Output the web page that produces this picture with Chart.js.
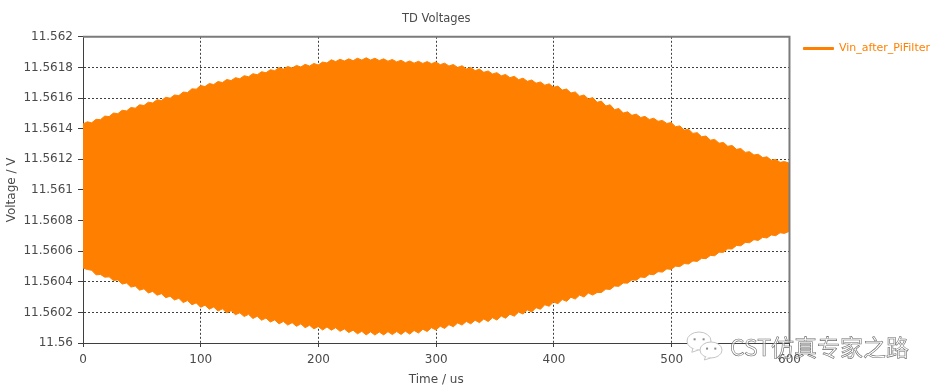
<!DOCTYPE html>
<html>
<head>
<meta charset="utf-8">
<title>TD Voltages</title>
<script src="https://cdn.jsdelivr.net/npm/chart.js@4"></script>
<style>
html, body { margin: 0; padding: 0; background: #fff; }
canvas { display: block; }
</style>
</head>
<body>
<canvas id="myChart" width="940" height="388"></canvas>
<script>
const seriesName = 'Vin_after_PiFilter';
const chartTitle = 'TD Voltages';
const xTitle = 'Time / us';
const yTitle = 'Voltage / V';
const watermark = 'CST仿真专家之路';

// time of each envelope sample, one ripple tooth is about 7.4 us
const times = [
    0, 3.7, 7.4, 11.1, 14.8, 18.5, 22.2, 25.9, 29.6, 33.3, 37, 40.7, 44.4, 48.1, 51.8, 55.5, 59.2, 62.9, 66.6, 70.3,
    74, 77.7, 81.4, 85.1, 88.8, 92.5, 96.2, 99.9, 103.6, 107.3, 111, 114.7, 118.4, 122.1, 125.8, 129.5, 133.2, 136.9, 140.6, 144.3,
    148, 151.7, 155.4, 159.1, 162.8, 166.5, 170.2, 173.9, 177.6, 181.3, 185, 188.7, 192.4, 196.1, 199.8, 203.5, 207.2, 210.9, 214.6, 218.3,
    222, 225.7, 229.4, 233.1, 236.8, 240.5, 244.2, 247.9, 251.6, 255.3, 259, 262.7, 266.4, 270.1, 273.8, 277.5, 281.2, 284.9, 288.6, 292.3,
    296, 299.7, 303.4, 307.1, 310.8, 314.5, 318.2, 321.9, 325.6, 329.3, 333, 336.7, 340.4, 344.1, 347.8, 351.5, 355.2, 358.9, 362.6, 366.3,
    370, 373.7, 377.4, 381.1, 384.8, 388.5, 392.2, 395.9, 399.6, 403.3, 407, 410.7, 414.4, 418.1, 421.8, 425.5, 429.2, 432.9, 436.6, 440.3,
    444, 447.7, 451.4, 455.1, 458.8, 462.5, 466.2, 469.9, 473.6, 477.3, 481, 484.7, 488.4, 492.1, 495.8, 499.5, 503.2, 506.9, 510.6, 514.3,
    518, 521.7, 525.4, 529.1, 532.8, 536.5, 540.2, 543.9, 547.6, 551.3, 555, 558.7, 562.4, 566.1, 569.8, 573.5, 577.2, 580.9, 584.6, 588.3,
    592, 595.7, 599.4, 600
];

// upper edge of the orange band
const upperEdge = [
    11.56143, 11.561445, 11.561438, 11.561461, 11.561459, 11.561482, 11.561479, 11.561502, 11.561498, 11.56152,
    11.561516, 11.561538, 11.561534, 11.561556, 11.561551, 11.561573, 11.561568, 11.561589, 11.561584, 11.561605,
    11.561599, 11.56162, 11.561616, 11.561639, 11.561636, 11.56166, 11.561658, 11.561682, 11.561675, 11.561695,
    11.561688, 11.561708, 11.561701, 11.561721, 11.561714, 11.561733, 11.561726, 11.561746, 11.561739, 11.561759,
    11.561752, 11.561772, 11.561765, 11.561785, 11.561779, 11.561799, 11.561789, 11.561806, 11.561796, 11.561813,
    11.561803, 11.56182, 11.561809, 11.561826, 11.561816, 11.561835, 11.561829, 11.56185, 11.561838, 11.561853,
    11.561842, 11.561856, 11.561844, 11.56186, 11.561848, 11.561863, 11.561848, 11.56186, 11.561845, 11.561856,
    11.561841, 11.561852, 11.561836, 11.561847, 11.561831, 11.561842, 11.561828, 11.56184, 11.561826, 11.561838,
    11.561824, 11.561836, 11.561818, 11.561828, 11.561809, 11.561819, 11.5618, 11.561811, 11.56179, 11.5618,
    11.561779, 11.561789, 11.561768, 11.561777, 11.561757, 11.561766, 11.561745, 11.561754, 11.561733, 11.561742,
    11.56172, 11.56173, 11.561709, 11.561718, 11.561697, 11.561705, 11.561684, 11.561693, 11.56167, 11.561678,
    11.561652, 11.561659, 11.561633, 11.56164, 11.561612, 11.56162, 11.561594, 11.561603, 11.561572, 11.56158,
    11.561548, 11.561556, 11.561524, 11.561532, 11.561502, 11.56151, 11.561487, 11.561495, 11.561473, 11.56148,
    11.56146, 11.561468, 11.561448, 11.561454, 11.561434, 11.56144, 11.561413, 11.561418, 11.561391, 11.561396,
    11.561369, 11.561374, 11.561347, 11.561352, 11.561325, 11.56133, 11.561305, 11.56131, 11.561285, 11.56129,
    11.561265, 11.56127, 11.561245, 11.56125, 11.561228, 11.561233, 11.561211, 11.561216, 11.561194, 11.561199,
    11.56118, 11.561185, 11.561176, 11.561174
];

// lower edge of the orange band
const lowerEdge = [
    11.56049, 11.56048, 11.560475, 11.560445, 11.560448, 11.56043, 11.560432, 11.560408, 11.560412, 11.560385,
    11.560392, 11.560365, 11.560372, 11.560345, 11.560354, 11.560327, 11.560337, 11.560312, 11.560322, 11.560296,
    11.560306, 11.560281, 11.560292, 11.560264, 11.560277, 11.56025, 11.560262, 11.560233, 11.560247, 11.560221,
    11.560235, 11.560209, 11.560223, 11.560197, 11.560211, 11.560185, 11.560197, 11.560173, 11.560187, 11.56016,
    11.560175, 11.560149, 11.560163, 11.560137, 11.560151, 11.560125, 11.560141, 11.560117, 11.560133, 11.560109,
    11.560125, 11.5601, 11.560116, 11.560092, 11.560108, 11.560085, 11.560105, 11.560084, 11.5601, 11.560076,
    11.560092, 11.560068, 11.560084, 11.56006, 11.560076, 11.560053, 11.560073, 11.560052, 11.560072, 11.560053,
    11.560074, 11.560055, 11.560075, 11.560056, 11.560077, 11.560058, 11.560082, 11.560065, 11.56009, 11.560075,
    11.5601, 11.560085, 11.56011, 11.560095, 11.56012, 11.560106, 11.560131, 11.560117, 11.560141, 11.560125,
    11.560149, 11.560133, 11.560157, 11.56014, 11.560165, 11.56015, 11.560176, 11.560162, 11.560188, 11.560175,
    11.560202, 11.560189, 11.560216, 11.560203, 11.560231, 11.56022, 11.56025, 11.56024, 11.560268, 11.560257,
    11.560284, 11.560272, 11.560299, 11.560287, 11.560313, 11.5603, 11.560326, 11.560313, 11.56033, 11.56033,
    11.560352, 11.56035, 11.560372, 11.56037, 11.560392, 11.560391, 11.560412, 11.56041, 11.560431, 11.560428,
    11.560449, 11.560446, 11.560466, 11.560463, 11.560484, 11.560481, 11.560502, 11.560499, 11.560519, 11.560516,
    11.560536, 11.560533, 11.560553, 11.560551, 11.560572, 11.56057, 11.560593, 11.560592, 11.560615, 11.560614,
    11.560637, 11.560635, 11.560657, 11.560655, 11.560675, 11.56067, 11.56069, 11.560686, 11.560706, 11.560701,
    11.56072, 11.560716, 11.560728, 11.56073
];

const orange = 'rgb(255, 128, 0)';
const inkColor = '#4a4a4a';
const gridColor = '#3f3f3f';
const frameColor = '#7b7b7b';
const fontName = '"DejaVu Sans", sans-serif';

const upper = {
    label: seriesName,
    data: upperEdge,
    borderColor: orange,
    backgroundColor: orange,
    borderWidth: 1,
    pointRadius: 0,
    fill: '+1'
};

const lower = {
    label: 'lower',
    data: lowerEdge,
    borderColor: orange,
    backgroundColor: orange,
    borderWidth: 1,
    pointRadius: 0,
    fill: false
};

// grey top and right sides of the plot frame
const frame = {
    id: 'frame',
    afterDatasetsDraw(chart) {
        const { ctx, chartArea: a } = chart;
        ctx.save();
        ctx.strokeStyle = frameColor;
        ctx.lineWidth = 2;
        ctx.beginPath();
        ctx.moveTo(a.left, a.top);
        ctx.lineTo(a.right, a.top);
        ctx.lineTo(a.right, a.bottom);
        ctx.stroke();
        ctx.restore();
    }
};

// the legend sits level with the top of the plot, not the top of the page
const legendDown = {
    id: 'legendDown',
    afterLayout(chart) {
        chart.legend.top += 29;
    }
};

function bubble(ctx, x, y, rx, ry) {
    ctx.fillStyle = '#fff';
    ctx.beginPath();
    ctx.ellipse(x, y, rx, ry, 0, 0, Math.PI * 2);
    ctx.fill();
    ctx.stroke();
    ctx.beginPath();
    ctx.moveTo(x - rx * 0.5, y + ry * 0.8);
    ctx.lineTo(x - rx * 0.6, y + ry * 1.25);
    ctx.lineTo(x - rx * 0.05, y + ry);
    ctx.fill();
    ctx.stroke();
    ctx.fillStyle = '#8a8a8a';
    ctx.fillRect(x - rx * 0.45, y - ry * 0.3, 2, 2);
    ctx.fillRect(x + rx * 0.3, y - ry * 0.3, 2, 2);
}

// WeChat style stamp over the lower right corner
const stamp = {
    id: 'stamp',
    afterDraw(chart) {
        const ctx = chart.ctx;
        ctx.save();
        ctx.strokeStyle = '#c4c4c4';
        ctx.lineWidth = 1;
        bubble(ctx, 699, 341, 12, 9);
        bubble(ctx, 711, 350, 11, 8);
        ctx.font = '23px "Noto Sans CJK SC", sans-serif';
        ctx.textBaseline = 'middle';
        ctx.fillStyle = 'rgba(255,255,255,0.55)';
        ctx.fillText(watermark, 730, 347);
        ctx.strokeStyle = '#6a6a6a';
        ctx.lineWidth = 0.6;
        ctx.strokeText(watermark, 730, 347);
        ctx.restore();
    }
};

const config = {
    type: 'line',
    data: { labels: times, datasets: [upper, lower] },
    plugins: [frame, legendDown, stamp],
    options: {
        responsive: false,
        animation: false,
        scales: {
            x: {
                type: 'linear',
                min: 0,
                max: 600,
                afterFit(scale) { scale.height = 45; },
                title: { display: true, text: xTitle, color: inkColor, font: { family: fontName, size: 12 }, padding: { top: 2, bottom: 1 } },
                ticks: { stepSize: 100, color: inkColor, maxRotation: 0, font: { family: fontName, size: 12 }, padding: 6 },
                grid: { color: gridColor, tickBorderDash: [], tickColor: gridColor, tickLength: 4, lineWidth: 1 },
                border: { color: gridColor, width: 1, dash: [2, 2] }
            },
            y: {
                min: 11.56,
                max: 11.562,
                afterFit(scale) { scale.width = 83; },
                title: { display: true, text: yTitle, color: inkColor, font: { family: fontName, size: 12 }, padding: { top: 5, bottom: 0 } },
                ticks: {
                    stepSize: 0.0002,
                    color: inkColor,
                    font: { family: fontName, size: 12 },
                    padding: 5,
                    callback: v => String(+v.toFixed(4))
                },
                grid: { color: gridColor, tickBorderDash: [], tickColor: gridColor, tickLength: 5, lineWidth: 1 },
                border: { color: gridColor, width: 1, dash: [2, 2] }
            }
        },
        plugins: {
            title: {
                display: true,
                text: chartTitle,
                fullSize: false,
                color: inkColor,
                font: { family: fontName, size: 11.5, weight: 'normal' },
                padding: { top: 12, bottom: 11 }
            },
            legend: {
                position: 'right',
                align: 'start',
                labels: {
                    color: orange,
                    boxWidth: 30,
                    boxHeight: 2,
                    padding: 14,
                    font: { family: fontName, size: 11 },
                    filter: item => item.text === seriesName
                }
            },
            tooltip: { enabled: false }
        }
    }
};

const myChart = new Chart(document.getElementById('myChart'), config);
</script>
</body>
</html>
